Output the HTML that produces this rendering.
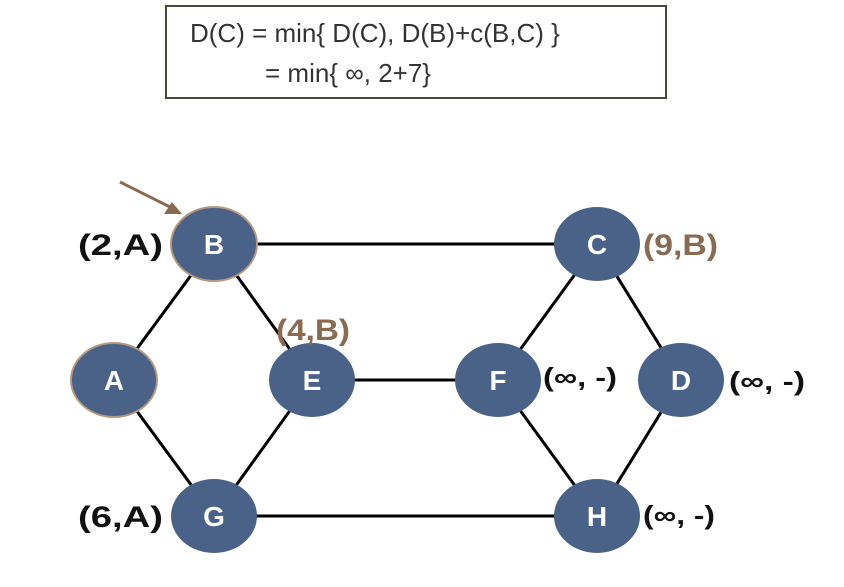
<!DOCTYPE html>
<html><head><style>
body{margin:0;background:#fff;width:844px;height:582px;overflow:hidden;font-family:"Liberation Sans",sans-serif}
</style></head><body>
<svg width="844" height="582" xmlns="http://www.w3.org/2000/svg" font-family="Liberation Sans, sans-serif">
<rect x="166" y="6" width="500" height="92" fill="#fff" stroke="#4a4a3a" stroke-width="2"/>
<text x="190" y="42" font-size="26" fill="#333">D(C) = min{ D(C), D(B)+c(B,C) }</text>
<text x="265" y="82" font-size="26" fill="#333">= min{ ∞, 2+7}</text>
<g stroke="#000" stroke-width="3">
<line x1="214" y1="244" x2="597" y2="244"/>
<line x1="214" y1="516" x2="597" y2="516"/>
<line x1="214" y1="244" x2="114" y2="380"/>
<line x1="214" y1="244" x2="312" y2="380"/>
<line x1="114" y1="380" x2="214" y2="516"/>
<line x1="312" y1="380" x2="214" y2="516"/>
<line x1="312" y1="380" x2="498" y2="380"/>
<line x1="498" y1="380" x2="597" y2="244"/>
<line x1="597" y1="244" x2="681" y2="380"/>
<line x1="498" y1="380" x2="597" y2="516"/>
<line x1="681" y1="380" x2="597" y2="516"/>
</g>
<line x1="120" y1="182" x2="172" y2="208" stroke="#8b6a52" stroke-width="3"/>
<polygon points="182,214 164,214 172,202" fill="#8b6a52"/>
<g fill="#4b6288">
<ellipse cx="214" cy="244" rx="43" ry="37" stroke="#b59a80" stroke-width="2"/>
<ellipse cx="114" cy="380" rx="43" ry="37" stroke="#b59a80" stroke-width="2"/>
<ellipse cx="312" cy="380" rx="43" ry="37"/>
<ellipse cx="498" cy="380" rx="43" ry="37"/>
<ellipse cx="597" cy="244" rx="43" ry="37"/>
<ellipse cx="681" cy="380" rx="43" ry="37"/>
<ellipse cx="214" cy="516" rx="43" ry="37"/>
<ellipse cx="597" cy="516" rx="43" ry="37"/>
</g>
<g fill="#fff" font-size="28" font-weight="bold" text-anchor="middle">
<text x="214" y="254">B</text><text x="114" y="390">A</text><text x="312" y="390">E</text>
<text x="498" y="390">F</text><text x="597" y="254">C</text><text x="681" y="390">D</text>
<text x="214" y="526">G</text><text x="597" y="526">H</text>
</g>
<g font-size="30" font-weight="bold">
<text x="78" y="255" fill="#111" textLength="85" lengthAdjust="spacingAndGlyphs">(2,A)</text>
<text x="78" y="527" fill="#111" textLength="85" lengthAdjust="spacingAndGlyphs">(6,A)</text>
<text x="276" y="340" fill="#8b6a52" textLength="74" lengthAdjust="spacingAndGlyphs">(4,B)</text>
<text x="643" y="255" fill="#8b6a52" textLength="75" lengthAdjust="spacingAndGlyphs">(9,B)</text>
<text x="543" y="386" fill="#111" font-size="26" textLength="74" lengthAdjust="spacingAndGlyphs">(∞, -)</text>
<text x="729" y="390" fill="#111" font-size="26" textLength="76" lengthAdjust="spacingAndGlyphs">(∞, -)</text>
<text x="643" y="524" fill="#111" font-size="26" textLength="72" lengthAdjust="spacingAndGlyphs">(∞, -)</text>
</g>
</svg>
</body></html>
